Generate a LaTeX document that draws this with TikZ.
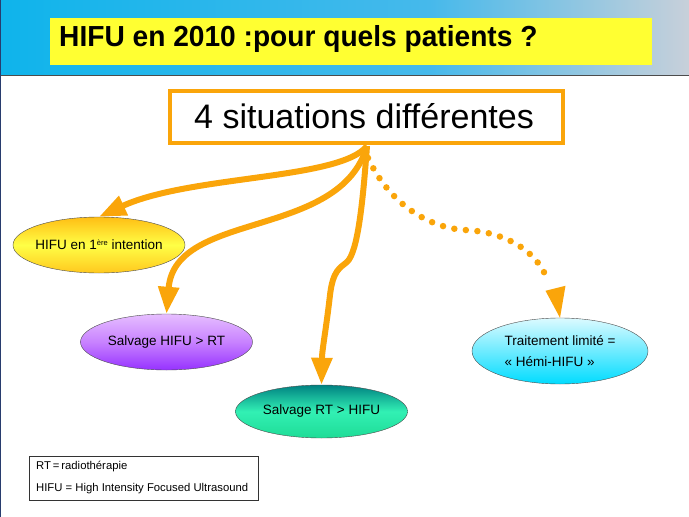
\documentclass[tikz,border=0pt]{standalone}
\usepackage{fontspec}
\setmainfont{Liberation Sans}
\newfontfamily\titlefont[FakeStretch=0.97]{Liberation Sans}
\usetikzlibrary{shapes.geometric,arrows.meta}
\definecolor{orng}{RGB}{250,165,10}
\definecolor{ttl}{RGB}{255,255,50}
\definecolor{hdl}{RGB}{15,180,235}
\definecolor{hdm}{RGB}{70,185,235}
\definecolor{hdr}{RGB}{200,208,218}
\definecolor{frame}{RGB}{40,60,110}
\definecolor{yt}{RGB}{255,190,20}
\definecolor{ym}{RGB}{255,255,70}
\definecolor{yb}{RGB}{255,200,30}
\definecolor{pt}{RGB}{230,190,255}
\definecolor{pm}{RGB}{200,130,255}
\definecolor{pb}{RGB}{150,50,255}
\definecolor{tt}{RGB}{0,130,130}
\definecolor{tm}{RGB}{50,240,180}
\definecolor{tb}{RGB}{30,220,150}
\definecolor{ct}{RGB}{220,250,255}
\definecolor{cm}{RGB}{110,235,255}
\definecolor{cb}{RGB}{0,220,255}
\tikzset{
  bubble/.style={ellipse, draw=black!70, thin, minimum width=172pt, minimum height=56pt, inner xsep=-25pt, inner ysep=0pt, align=left, font=\fontsize{13.5}{21}\selectfont},
  tip/.style={-{Triangle[width=20pt,length=27pt]}},
  arr/.style={draw=orng, line width=6pt, tip},
  dotarr/.style={draw=orng, line width=6.5pt, line cap=round, dash pattern=on 0pt off 11.6pt},
}
\begin{document}
\begin{tikzpicture}[x=1pt,y=-1pt]
\useasboundingbox (0,0) rectangle (689,517);
\fill[white] (0,0) rectangle (689,517);
% header band
\shade[left color=hdl, right color=hdm] (0,0) rectangle (430,75);
\shade[left color=hdm, right color=hdr] (430,0) rectangle (689,75);
\draw[black!70, line width=1pt] (0,75.5) -- (689,75.5);
\draw[frame, line width=1.2pt] (0.6,0) -- (0.6,517);
% title
\node[fill=ttl, minimum width=602pt, minimum height=47pt, anchor=north west, inner sep=0pt] (title) at (50,18) {};
\node[anchor=base west, inner sep=0pt, font=\titlefont\bfseries\fontsize{29}{32}\selectfont] (titletext) at (59,46) {HIFU en 2010 :pour quels patients ?};
% main box
\node[draw=orng, line width=4pt, fill=white, minimum width=393pt, minimum height=52pt, inner sep=0pt] (main) at (366.5,117) {};
\node[anchor=base, inner sep=0pt, font=\fontsize{34}{36}\selectfont] (maintext) at (364,128) {4 situations différentes};
\coordinate (o) at (367,146);
\coordinate (od) at (368,158);
% ellipses
\node[bubble, top color=yt, bottom color=yb, middle color=ym] (e1) at (99,245) {HIFU en 1\raisebox{4.5pt}{\fontsize{7.5}{8}\selectfont ère} intention};
\node[bubble, top color=pt, bottom color=pb, middle color=pm] (e2) at (166.5,342) {Salvage HIFU > RT};
\node[bubble, minimum height=53pt, top color=tt, bottom color=tb, middle color=tm] (e3) at (321.5,411.5) {Salvage RT > HIFU};
\node[bubble, minimum width=176pt, minimum height=66pt, top color=ct, bottom color=cb, middle color=cm] (e4) at (560,351) {Traitement limité =\\« Hémi-HIFU »};
% arrows
\draw[arr] (o) .. controls (340,180) and (190,175) .. (e1.north);
\draw[arr] (o) .. controls (340,240) and (175,210) .. (e2.north);
\draw[arr] (o) .. controls (363,200) and (358,252) .. (347,262) .. controls (340,268) and (333,270) .. (330,295) .. controls (326,330) and (322,350) .. (e3.north);
\draw[dotarr] (od) .. controls (390,205) and (430,228) .. (465,230) .. controls (510,232) and (540,255) .. (548,282);
\fill[orng] (e4.north) -- ++(-14.5,-27) -- ++(20,-5) -- cycle;
% legend
\node[draw=black!80, thin, fill=white, minimum width=229pt, minimum height=44pt, anchor=north west, inner sep=0pt] (leg) at (29,456) {};
\node[anchor=north west, align=left, inner sep=0pt, font=\fontsize{11.3}{22}\selectfont] (legtext) at (36,461) {RT\,=\,radiothérapie\\HIFU = High Intensity Focused Ultrasound};
\end{tikzpicture}
\end{document}
